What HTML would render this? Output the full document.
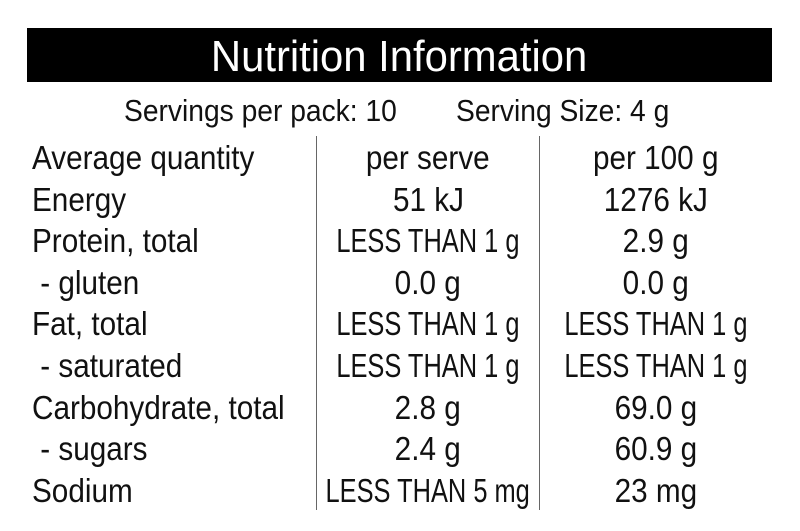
<!DOCTYPE html>
<html><head><style>
body{margin:0;width:800px;height:531px;background:#fff;position:relative;overflow:hidden;font-family:"Liberation Sans",sans-serif;color:#111}
.hdr{position:absolute;left:27px;top:28px;width:745px;height:54px;background:#000;color:#fff;font-size:44px;text-align:center;line-height:58px}
.hdr span{display:inline-block;transform:scaleX(0.95)}
.t{position:absolute;font-size:33px;line-height:40px;white-space:nowrap}
.t span{display:inline-block;transform:scaleX(0.9)}
.t span.l{transform:scaleX(0.77)}
.c2{left:228px;width:400px;text-align:center}
.c3{left:456px;width:400px;text-align:center}
.c1{left:32px}
.c1 span{transform-origin:left center}
.v{position:absolute;top:136px;height:374px;width:1px;background:#666}
.s span{transform-origin:left center;transform:scaleX(0.91)}
</style></head><body>
<div class="hdr"><span>Nutrition Information</span></div>
<div class="t s" style="left:124px;top:91px;font-size:31px"><span>Servings per pack: 10</span></div>
<div class="t s" style="left:456px;top:91px;font-size:31px"><span>Serving Size: 4 g</span></div>
<div class="v" style="left:316px"></div>
<div class="v" style="left:539px"></div>

<div class="t c1" style="top:138px"><span>Average quantity</span></div><div class="t c2" style="top:138px"><span>per serve</span></div><div class="t c3" style="top:138px"><span>per 100 g</span></div>
<div class="t c1" style="top:180px"><span>Energy</span></div><div class="t c2" style="top:180px"><span>51 kJ</span></div><div class="t c3" style="top:180px"><span>1276 kJ</span></div>
<div class="t c1" style="top:221px"><span>Protein, total</span></div><div class="t c2" style="top:221px"><span class="l">LESS THAN 1 g</span></div><div class="t c3" style="top:221px"><span>2.9 g</span></div>
<div class="t c1" style="top:263px"><span>&nbsp;- gluten</span></div><div class="t c2" style="top:263px"><span>0.0 g</span></div><div class="t c3" style="top:263px"><span>0.0 g</span></div>
<div class="t c1" style="top:304px"><span>Fat, total</span></div><div class="t c2" style="top:304px"><span class="l">LESS THAN 1 g</span></div><div class="t c3" style="top:304px"><span class="l">LESS THAN 1 g</span></div>
<div class="t c1" style="top:346px"><span>&nbsp;- saturated</span></div><div class="t c2" style="top:346px"><span class="l">LESS THAN 1 g</span></div><div class="t c3" style="top:346px"><span class="l">LESS THAN 1 g</span></div>
<div class="t c1" style="top:388px"><span>Carbohydrate, total</span></div><div class="t c2" style="top:388px"><span>2.8 g</span></div><div class="t c3" style="top:388px"><span>69.0 g</span></div>
<div class="t c1" style="top:429px"><span>&nbsp;- sugars</span></div><div class="t c2" style="top:429px"><span>2.4 g</span></div><div class="t c3" style="top:429px"><span>60.9 g</span></div>
<div class="t c1" style="top:471px"><span>Sodium</span></div><div class="t c2" style="top:471px"><span class="l">LESS THAN 5 mg</span></div><div class="t c3" style="top:471px"><span>23 mg</span></div>
</body></html>
